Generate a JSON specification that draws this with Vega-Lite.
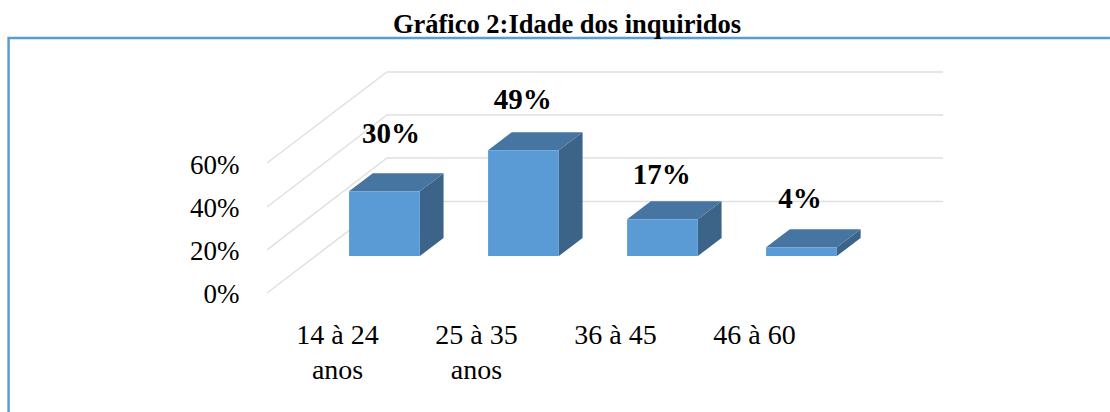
{
"$schema":"https://vega.github.io/schema/vega-lite/v6.json",
"width":676,"height":221,
"autosize":{"type":"none"},
"padding":{"left":267,"top":72,"right":167,"bottom":119},
"background":"white",
"config":{"view":{"stroke":null}},
"title":{"text":"Gráfico 2:Idade dos inquiridos","font":"Liberation Serif","fontSize":26.5,"fontWeight":"bold","color":"#000000","anchor":"middle","dx":-38,"offset":-26,"baseline":"alphabetic"},
"datasets":{
"eixos":[{"categoria":0,"pct":0},{"categoria":1,"pct":20},{"categoria":2,"pct":40},{"categoria":3,"pct":60}],
"grade":[
{"id":"g60","x":0.018,"y":85.19},{"id":"g60","x":4.018,"y":85.19},{"id":"g60","x":-0.845,"y":43.06},
{"id":"g40","x":0.018,"y":65.3},{"id":"g40","x":4.018,"y":65.3},{"id":"g40","x":-0.845,"y":22.7},
{"id":"g20","x":0.018,"y":45.4},{"id":"g20","x":4.018,"y":45.4},{"id":"g20","x":-0.845,"y":2.8},
{"id":"g0","x":0.018,"y":25.2},{"id":"g0","x":4.018,"y":25.2},{"id":"g0","x":-0.845,"y":-17.13}],
"moldura":[{"id":"m","ordem":1,"x":-2.704,"y":-72.2},{"id":"m","ordem":2,"x":-2.704,"y":100.9},{"id":"m","ordem":3,"x":5.219,"y":100.9}],
"lado":[
{"id":0,"x":0.2547,"y":0,"y2":30},{"id":0,"x":0.4252,"y":8.33,"y2":38.33},
{"id":1,"x":1.2547,"y":0,"y2":49},{"id":1,"x":1.4252,"y":8.33,"y2":57.33},
{"id":2,"x":2.2547,"y":0,"y2":17},{"id":2,"x":2.4252,"y":8.33,"y2":25.33},
{"id":3,"x":3.2547,"y":0,"y2":4},{"id":3,"x":3.4252,"y":8.33,"y2":12.33}],
"topo":[
{"id":0,"x":-0.2547,"y":30,"y2":30},{"id":0,"x":-0.0842,"y":30,"y2":38.33},{"id":0,"x":0.2547,"y":30,"y2":38.33},{"id":0,"x":0.4252,"y":38.33,"y2":38.33},
{"id":1,"x":0.7453,"y":49,"y2":49},{"id":1,"x":0.9158,"y":49,"y2":57.33},{"id":1,"x":1.2547,"y":49,"y2":57.33},{"id":1,"x":1.4252,"y":57.33,"y2":57.33},
{"id":2,"x":1.7453,"y":17,"y2":17},{"id":2,"x":1.9158,"y":17,"y2":25.33},{"id":2,"x":2.2547,"y":17,"y2":25.33},{"id":2,"x":2.4252,"y":25.33,"y2":25.33},
{"id":3,"x":2.7453,"y":4,"y2":4},{"id":3,"x":2.9158,"y":4,"y2":12.33},{"id":3,"x":3.2547,"y":4,"y2":12.33},{"id":3,"x":3.4252,"y":12.33,"y2":12.33}],
"barras":[
{"faixa":"14 à 24 anos","x":-0.2547,"x2":0.2547,"y":0,"y2":30},
{"faixa":"25 à 35 anos","x":0.7453,"x2":1.2547,"y":0,"y2":49},
{"faixa":"36 à 45","x":1.7453,"x2":2.2547,"y":0,"y2":17},
{"faixa":"46 à 60","x":2.7453,"x2":3.2547,"y":0,"y2":4}],
"rotulos":[
{"texto":"30%","x":0.047,"y":56.5},
{"texto":"49%","x":0.994,"y":72.1},
{"texto":"17%","x":1.994,"y":37.6},
{"texto":"4%","x":2.989,"y":26.5}]
},
"layer":[
{"data":{"name":"eixos"},
"mark":{"type":"point","opacity":0},
"encoding":{
"x":{"field":"categoria","type":"quantitative","title":null,"scale":{"domain":[-0.504,4.36],"nice":false,"zero":false},
"axis":{"values":[0,1,2,3],"grid":false,"domain":false,"ticks":false,"labelFont":"Liberation Serif","labelFontSize":28,"labelColor":"#000000","labelPadding":28,"labelLineHeight":35,"labelBaseline":"top","labelFlush":false,"labelOverlap":false,"labelBound":false,
"labelExpr":"datum.value==0?['14 à 24','anos']:datum.value==1?['25 à 35','anos']:datum.value==2?'36 à 45':'46 à 60'"}},
"y":{"field":"pct","type":"quantitative","title":null,"scale":{"domain":[0,103.3],"nice":false},
"axis":{"values":[0,20,40,60],"grid":false,"domain":false,"ticks":false,"labelFont":"Liberation Serif","labelFontSize":27,"labelColor":"#000000","labelPadding":28,"labelOffset":1,"labelFlush":false,"labelOverlap":false,"labelBound":false,"labelExpr":"datum.value+'%'"}}
}},
{"encoding":{
"x":{"field":"x","type":"quantitative","title":null,"axis":null,"scale":{"domain":[-0.845,4.018],"nice":false,"zero":false}},
"y":{"field":"y","type":"quantitative","title":null,"axis":null,"stack":null,"scale":{"domain":[-17.13,85.19],"nice":false,"zero":false}}
},
"layer":[
{"data":{"name":"moldura"},"mark":{"type":"line","color":"#5B9BD5","strokeWidth":2.5,"clip":false},"encoding":{"detail":{"field":"id"},"order":{"field":"ordem","type":"quantitative"}}},
{"data":{"name":"grade"},"mark":{"type":"line","color":"#E0E0E0","strokeWidth":1.5},"encoding":{"detail":{"field":"id"},"order":{"field":"y","type":"quantitative"}}},
{"data":{"name":"lado"},"mark":{"type":"area","color":"#3C6489","opacity":1},"encoding":{"y2":{"field":"y2"},"detail":{"field":"id"}}},
{"data":{"name":"topo"},"mark":{"type":"area","color":"#4675A1","opacity":1},"encoding":{"y2":{"field":"y2"},"detail":{"field":"id"}}},
{"data":{"name":"barras"},"mark":{"type":"rect","color":"#5B9BD5","opacity":1},"encoding":{"x2":{"field":"x2"},"y2":{"field":"y2"}}},
{"data":{"name":"rotulos"},"mark":{"type":"text","font":"Liberation Serif","fontSize":29,"fontWeight":"bold","color":"#000000","align":"center","baseline":"middle"},"encoding":{"text":{"field":"texto"}}}
]}
],
"resolve":{"scale":{"x":"independent","y":"independent"},"axis":{"x":"independent","y":"independent"}}
}
